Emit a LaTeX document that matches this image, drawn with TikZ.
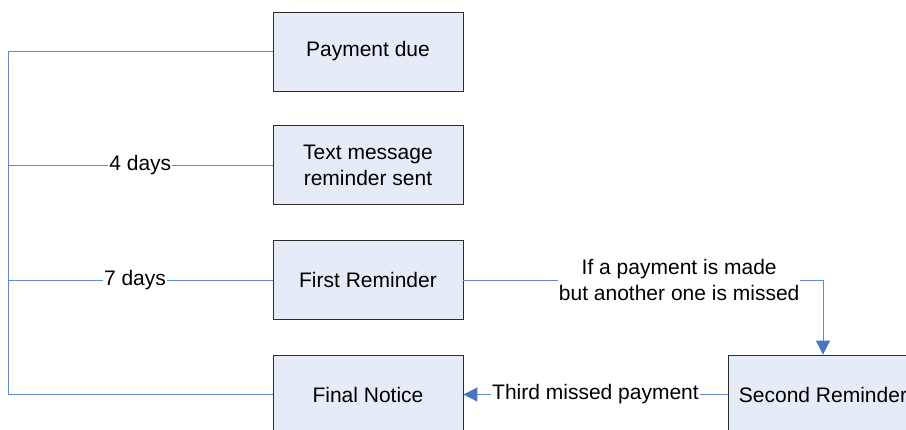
\documentclass[tikz,border=0pt]{standalone}
\usepackage{fontspec}
\setmainfont{Liberation Sans}
\usetikzlibrary{arrows.meta}
\definecolor{boxfill}{RGB}{230,236,247}
\definecolor{boxline}{RGB}{45,45,45}
\definecolor{conn}{RGB}{96,136,204}
\definecolor{tipc}{RGB}{72,116,196}
\begin{document}
\begin{tikzpicture}[x=1pt,y=-1pt,
  every node/.style={font=\fontsize{21}{26}\selectfont},
  stepbox/.style={draw=boxline, line width=0.9pt, fill=boxfill, minimum width=190pt, minimum height=79pt, inner sep=0pt, align=center},
  conline/.style={draw=conn, line width=1pt},
  arr/.style={conline, -{Triangle[width=14pt,length=14pt,fill=tipc,color=tipc]}},
  lbl/.style={fill=white, inner sep=1pt, align=center}]
\useasboundingbox (0,0) rectangle (906,429);
\node[stepbox] (pay) at (368,51.5) {Payment due};
\node[stepbox] (txt) at (368,165) {Text message\\reminder sent};
\node[stepbox] (first) at (368,280) {First Reminder};
\node[stepbox] (final) at (368,394.5) {Final Notice};
\node[stepbox] (second) at (823,394.5) {Second Reminder};
\coordinate (b1) at (8,51.5);
\coordinate (b2) at (8,165);
\coordinate (b3) at (8,280);
\coordinate (b4) at (8,394.5);
\coordinate (corner) at (823,280);
\draw[conline] (pay.west) -- (b1) -- (b4) -- (final.west);
\draw[conline] (b2) -- node[lbl]{4 days} (txt.west);
\draw[conline] (b3) -- node[lbl, pos=0.48]{7 days} (first.west);
\draw[arr] (first.east) -- node[lbl, pos=0.6]{If a payment is made\\but another one is missed} (corner) -- (second.north);
\draw[arr] (second.west) -- node[lbl]{Third missed payment} (final.east);
\end{tikzpicture}
\end{document}
